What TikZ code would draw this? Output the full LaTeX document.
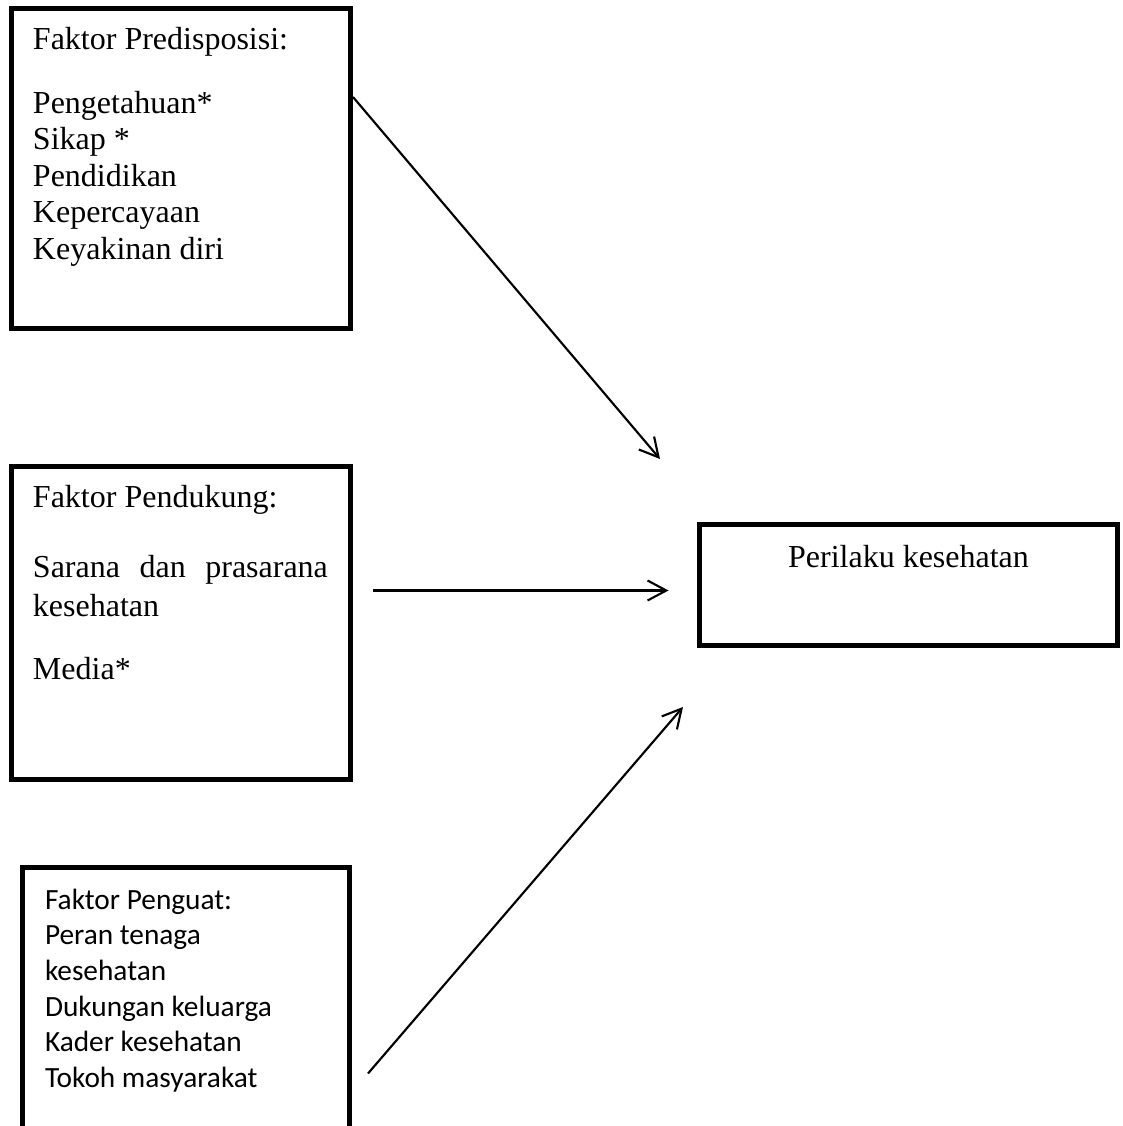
\documentclass[tikz,border=0pt]{standalone}
\usepackage{fontspec}
\setmainfont{Liberation Serif}
\newfontfamily\calibrifont{Carlito}
\usetikzlibrary{positioning}
\usetikzlibrary {arrows.meta}
\tikzset{faktor/.style={rectangle,draw=black,line width=1.95pt,fill=white,
inner sep=0pt,outer sep=0pt}}

\begin{document}
\begin{tikzpicture}[x=0.375pt,y=-0.375pt]
    \useasboundingbox (0,0) rectangle (1122,1126);
    \clip (0,0) rectangle (1122,1126);

        \node[faktor] (boxA) at (181,168.5) {\parbox[c][120pt][t]{127.125pt}{\leftskip=8.06pt
            \fontsize{12}{13.7}\selectfont\rule{0pt}{15.56pt}Faktor Predisposisi:\\[10pt]
            Pengetahuan*\\ Sikap *\\ Pendidikan\\ Kepercayaan\\ Keyakinan diri}};
        \node[faktor] (boxB) [below=51.75pt of boxA] {\parbox[c][117.375pt][t]{127.125pt}{\leftskip=8.06pt
            \fontsize{12}{14.6}\selectfont\rule{0pt}{15.56pt}Faktor Pendukung:\\[11.5pt]
            \makebox[110.6pt][s]{Sarana dan prasarana}\\ kesehatan\\[9pt] Media*}};
        \node[faktor] (boxC) [below=33pt of boxB, xshift=1.875pt] {\parbox[c][105.94pt][t]{122.625pt}{\leftskip=8.44pt
            \calibrifont\fontsize{11}{13.4}\selectfont\rule{0pt}{15.56pt}Faktor Penguat:\\ Peran tenaga\\
            kesehatan\\ Dukungan keluarga\\ Kader kesehatan\\ Tokoh masyarakat}};

        \node[faktor] (boxD) [right=130.875pt of boxB, yshift=14.25pt] {\parbox[c][45.375pt][t]{156.75pt}{\centering
            \fontsize{12}{13.8}\selectfont\rule{0pt}{15.94pt}Perilaku kesehatan}};

        \coordinate (boxAr) at ([shift={(2.5,-71.5)}]boxA.east);
        \coordinate (boxDtl) at ([shift={(-39.5,-65.5)}]boxD.north west);
        \draw [line width=0.8pt,-{Straight Barb[length=7pt,width=7.5pt]}] (boxAr) -- (boxDtl);

        \coordinate (boxBr) at ([shift={(22.5,-32.5)}]boxB.east);
        \coordinate (boxDl) at ([shift={(-31,5.5)}]boxD.west);
        \draw [line width=0.8pt,-{Straight Barb[length=7pt,width=7.5pt]}] (boxBr) -- (boxDl);

        \coordinate (boxCr) at ([shift={(18.5,206)}]boxC.north east);
        \coordinate (boxDbl) at ([shift={(-16.5,61.5)}]boxD.south west);
        \draw [line width=0.8pt,-{Straight Barb[length=7pt,width=7.5pt]}] (boxCr) -- (boxDbl);

\end{tikzpicture}
\end{document}
